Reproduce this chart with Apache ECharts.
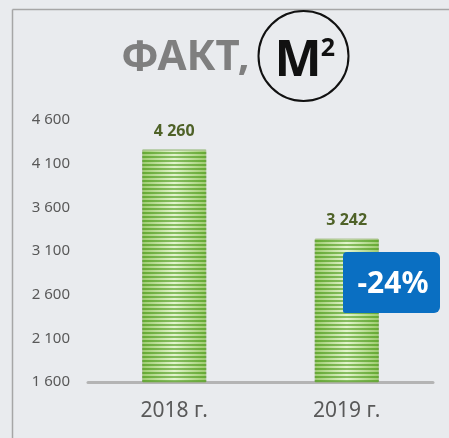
<!DOCTYPE html>
<html lang="ru">
<head>
    <meta charset="UTF-8">
    <title>Факт, м2</title>
    <style>
        html, body { margin: 0; padding: 0; background: #e9ebee; }
        #main { width: 449px; height: 438px; }
    </style>
</head>
<body>
<div id="main"></div>
<script src="https://cdn.jsdelivr.net/npm/echarts@6/dist/echarts.min.js"></script>
<script>
    // данные
    const years = ['2018 г.', '2019 г.'];
    const fact = [4260, 3242];
    const yTicks = [1600, 2100, 2600, 3100, 3600, 4100, 4600];

    const fmt = v => String(v).replace(/\B(?=(\d{3})+(?!\d))/g, ' ');
    const change = Math.round((fact[1] - fact[0]) / fact[0] * 100);

    // полоски на столбцах
    const stripe = document.createElement('canvas');
    stripe.width = 4; stripe.height = 4;
    const sc = stripe.getContext('2d');
    sc.fillStyle = 'rgba(80,155,35,0.6)';
    sc.fillRect(0, 0, 4, 2);
    sc.fillStyle = 'rgba(255,255,255,0.2)';
    sc.fillRect(0, 2, 4, 2);

    const chart = echarts.init(document.getElementById('main'));

    chart.setOption({
        backgroundColor: '#e9ebee',
        animation: false,
        grid: { left: 88, right: 16, top: 120, bottom: 56 },
        xAxis: {
            type: 'category',
            data: years,
            axisLine: { lineStyle: { color: '#b4b4b4', width: 3 } },
            axisTick: { show: false },
            axisLabel: { color: '#595959', fontSize: 21, margin: 19, fontFamily: 'Noto Sans' }
        },
        yAxis: {
            type: 'value',
            min: yTicks[0],
            max: yTicks[yTicks.length - 1],
            interval: 500,
            splitLine: { show: false },
            axisLabel: { color: '#595959', fontSize: 15, margin: 18, fontFamily: 'Noto Sans', formatter: fmt }
        },
        series: [
            {
                type: 'bar',
                data: fact,
                barWidth: 64,
                itemStyle: {
                    borderColor: '#8fae6c',
                    borderWidth: 1,
                    color: {
                        type: 'linear', x: 0, y: 0, x2: 1, y2: 0,
                        colorStops: [
                            { offset: 0, color: '#86c04c' },
                            { offset: 0.5, color: '#dcf2c2' },
                            { offset: 1, color: '#86c04c' }
                        ]
                    }
                }
            },
            {
                type: 'bar',
                data: fact,
                barWidth: 64,
                barGap: '-100%',
                itemStyle: { color: { image: stripe, repeat: 'repeat' } },
                label: {
                    show: true,
                    position: 'top',
                    distance: 10,
                    color: '#4f6228',
                    fontWeight: 'bold',
                    fontSize: 16,
                    fontFamily: 'Noto Sans',
                    formatter: p => fmt(p.value)
                }
            }
        ],
        graphic: [
            // рамка
            { type: 'line', z: 100, shape: { x1: 12.5, y1: 9.5, x2: 449, y2: 9.5 }, style: { stroke: '#a6a6a6', lineWidth: 1.5 } },
            { type: 'line', z: 100, shape: { x1: 12.5, y1: 9.5, x2: 12.5, y2: 438 }, style: { stroke: '#a6a6a6', lineWidth: 1.5 } },
            // заголовок
            {
                type: 'text', z: 100, x: 121, y: 58,
                style: { text: 'ФАКТ,', fill: '#7f7f7f', font: 'bold 42px "Noto Sans"', verticalAlign: 'middle' }
            },
            {
                type: 'circle', z: 100, shape: { cx: 303.5, cy: 56, r: 45 },
                style: { fill: 'rgba(0,0,0,0)', stroke: '#111', lineWidth: 2 }
            },
            {
                type: 'text', z: 100, x: 298, y: 62,
                style: { text: 'М', fill: '#111', font: 'bold 50px "Noto Sans"', align: 'center', verticalAlign: 'middle' }
            },
            {
                type: 'text', z: 100, x: 328, y: 49,
                style: { text: '2', fill: '#111', font: 'bold 25px "Noto Sans"', align: 'center', verticalAlign: 'middle' }
            },
            // изменение
            {
                type: 'rect', z: 100, shape: { x: 343, y: 252, width: 97, height: 61, r: [4, 6, 6, 2] },
                style: { fill: '#0a6fc2' }
            },
            {
                type: 'text', z: 101, x: 393, y: 284,
                style: { text: change + '%', fill: '#fff', font: 'bold 30px "Noto Sans"', align: 'center', verticalAlign: 'middle' }
            }
        ]
    });
</script>
</body>
</html>
